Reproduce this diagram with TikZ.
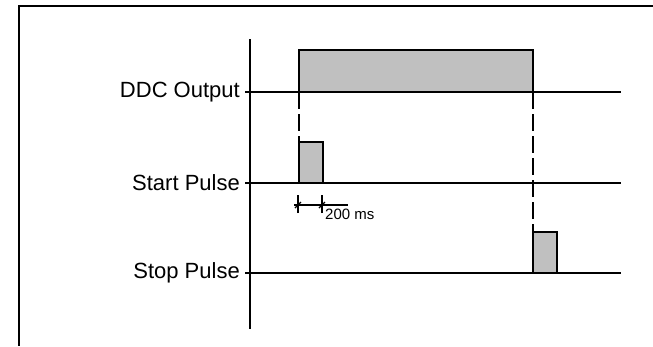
\documentclass[tikz,border=0pt]{standalone}
\usepackage{fontspec}
\setmainfont{Liberation Sans}
\usetikzlibrary{positioning}
\definecolor{pulsegray}{RGB}{192,192,192}

\begin{document}
\begin{tikzpicture}[x=1pt,y=-1pt]
\tikzset{
  frameline/.style={draw=black,line width=2pt},
  sigline/.style={draw=black,line width=2pt,line cap=rect},
  pulsebox/.style={fill=pulsegray,draw=black,line width=2.2pt},
  guideline/.style={draw=black,line width=1.4pt,dash pattern=on 17pt off 5pt},
  dimline/.style={draw=black,line width=1.3pt},
  siglabel/.style={anchor=east,inner sep=0pt,font=\fontsize{22}{26}\selectfont},
  dimlabel/.style={anchor=north west,inner sep=0pt,font=\fontsize{15}{18}\selectfont}
}
\useasboundingbox (0,0) rectangle (653,346);
\draw[frameline] (653,6) -- (19,6) -- (19,346);
% time axis
\coordinate (ax_top) at (250,40);
\coordinate (ax_bot) at (250,328);
\draw[sigline] (ax_top) -- (ax_bot);
% signal labels
\node[siglabel] (l_ddc) at (240,92) {DDC Output};
\node[siglabel] (l_start) at (240,183) {Start Pulse};
\node[siglabel] (l_stop) at (240,273) {Stop Pulse};
% signal base lines
\coordinate (b_ddc0) at (246,92);   \coordinate (b_ddc1) at (620,92);
\coordinate (b_start0) at (246,183); \coordinate (b_start1) at (620,183);
\coordinate (b_stop0) at (246,273);  \coordinate (b_stop1) at (620,273);
% pulses
\coordinate (p_ddc0) at (299,92);   \coordinate (p_ddc1) at (533,50);
\coordinate (p_start0) at (299,183); \coordinate (p_start1) at (323,142);
\coordinate (p_stop0) at (533,273);  \coordinate (p_stop1) at (557,232);
\filldraw[pulsebox] (p_ddc0) rectangle (p_ddc1);
\filldraw[pulsebox] (p_start0) rectangle (p_start1);
\filldraw[pulsebox] (p_stop0) rectangle (p_stop1);
\draw[sigline] (b_ddc0) -- (b_ddc1);
\draw[sigline] (b_start0) -- (b_start1);
\draw[sigline] (b_stop0) -- (b_stop1);
% dashed guides
\draw[guideline] (p_ddc0) -- (p_start0 |- p_start1);
\draw[guideline] (p_ddc1 |- p_ddc0) -- (p_stop0 |- p_stop1);
% 200 ms dimension
\coordinate (d_a) at (298,205);
\coordinate (d_b) at (322,205);
\draw[dimline] ([yshift=-8]d_a) -- ([yshift=10]d_a);
\draw[dimline] ([yshift=-8]d_b) -- ([yshift=10]d_b);
\draw[dimline] ([xshift=-4]d_a) -- ([xshift=26]d_b);
\draw[dimline] ([shift={(-3,3)}]d_a) -- ([shift={(3,-3)}]d_a);
\draw[dimline] ([shift={(-3,3)}]d_b) -- ([shift={(3,-3)}]d_b);
\node[dimlabel] (l_dim) at (325,209) {200 ms};
\end{tikzpicture}
\end{document}
